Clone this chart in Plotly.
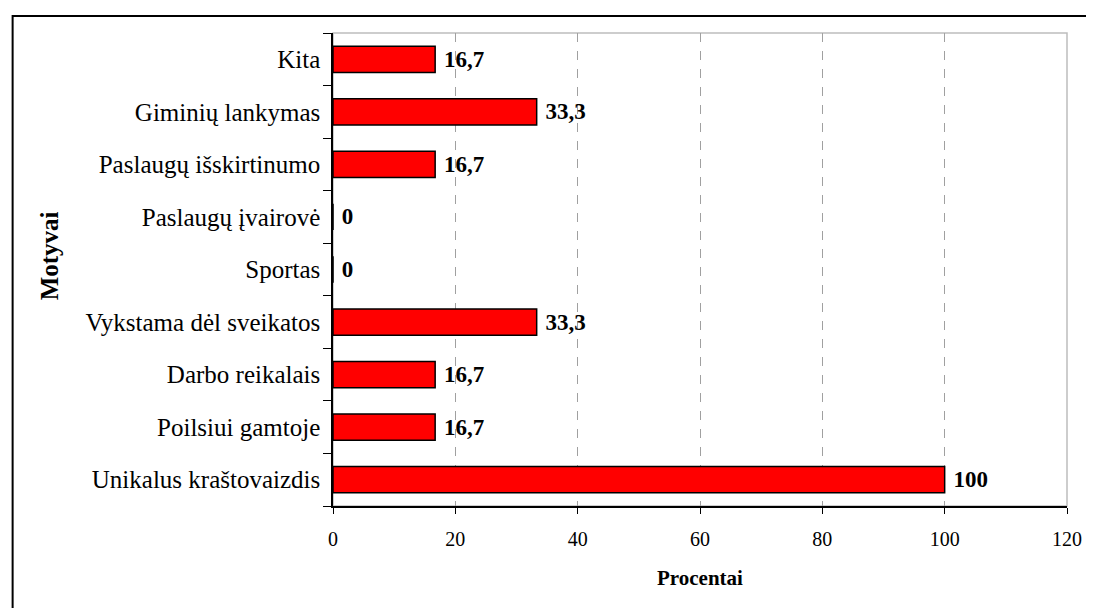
import plotly.graph_objects as go

categories = ["Unikalus kraštovaizdis", "Poilsiui gamtoje", "Darbo reikalais",
              "Vykstama dėl sveikatos", "Sportas", "Paslaugų įvairovė",
              "Paslaugų išskirtinumo", "Giminių lankymas", "Kita"]
values = [100, 16.7, 16.7, 33.3, 0, 0, 16.7, 33.3, 16.7]
x_ticks = [0, 20, 40, 60, 80, 100, 120]
x_title = "Procentai"
y_title = "Motyvai"

labels = ["\u00a0" + ("%g" % v).replace(".", ",") for v in values]

FONT = "Liberation Serif, Times New Roman, serif"
OFF = 8  # default page body margin
W, H = 1094 - OFF, 608 - OFF
L, R, T, B = 333 - OFF, 1073 - OFF, 33 - OFF, 506 - OFF

def px(x):
    return (x - OFF - L) / (R - L)

def py(y):
    return (B - (y - OFF)) / (B - T)

fig = go.Figure(go.Bar(
    x=values, y=categories, orientation="h",
    marker=dict(color="#FF0000", line=dict(color="#000000", width=1.5)),
    text=labels, textposition="outside",
    textfont=dict(family=FONT, size=23, color="#000000", weight="bold"),
    cliponaxis=False,
))

fig.update_layout(
    width=W, height=H,
    margin=dict(l=L, r=W - R, t=T, b=H - B, pad=0),
    paper_bgcolor="white", plot_bgcolor="white",
    bargap=0.5, showlegend=False,
    font=dict(family=FONT, color="#000000"),
    xaxis=dict(range=[0, 120], tickvals=x_ticks, ticks="outside", ticklen=6,
               tickcolor="#000", showline=True, linecolor="#000", linewidth=1.5,
               showgrid=True, gridcolor="#A0A0A0", griddash="dash", gridwidth=1,
               zeroline=False, ticklabelstandoff=8,
               tickfont=dict(family=FONT, size=20, color="#000")),
    yaxis=dict(type="category", categoryorder="array", categoryarray=categories,
               ticks="outside", ticklen=8, tickson="boundaries", tickcolor="#000",
               showline=True, linecolor="#000", linewidth=1.5, showgrid=False,
               ticklabelstandoff=6,
               tickfont=dict(family=FONT, size=25, color="#000"), range=[-0.5, 8.5]),
    shapes=[
        dict(type="rect", xref="paper", yref="paper", x0=0, x1=1, y0=0, y1=1,
             line=dict(color="#BDBDBD", width=1.5), layer="below"),
        dict(type="rect", xref="paper", yref="paper", x0=px(10), x1=px(1110),
             y0=py(625), y1=py(16), line=dict(color="#000000", width=2)),
    ],
    annotations=[
        dict(text="<b>" + x_title + "</b>", xref="paper", yref="paper",
             x=px(703), y=py(578), xanchor="center", yanchor="middle",
             showarrow=False, font=dict(family=FONT, size=21, color="#000")),
        dict(text="<b>" + y_title + "</b>", xref="paper", yref="paper",
             x=px(47), y=py(256), xanchor="center", yanchor="middle",
             showarrow=False, textangle=-90,
             font=dict(family=FONT, size=25, color="#000")),
    ],
)

fig.write_html("out.html")
